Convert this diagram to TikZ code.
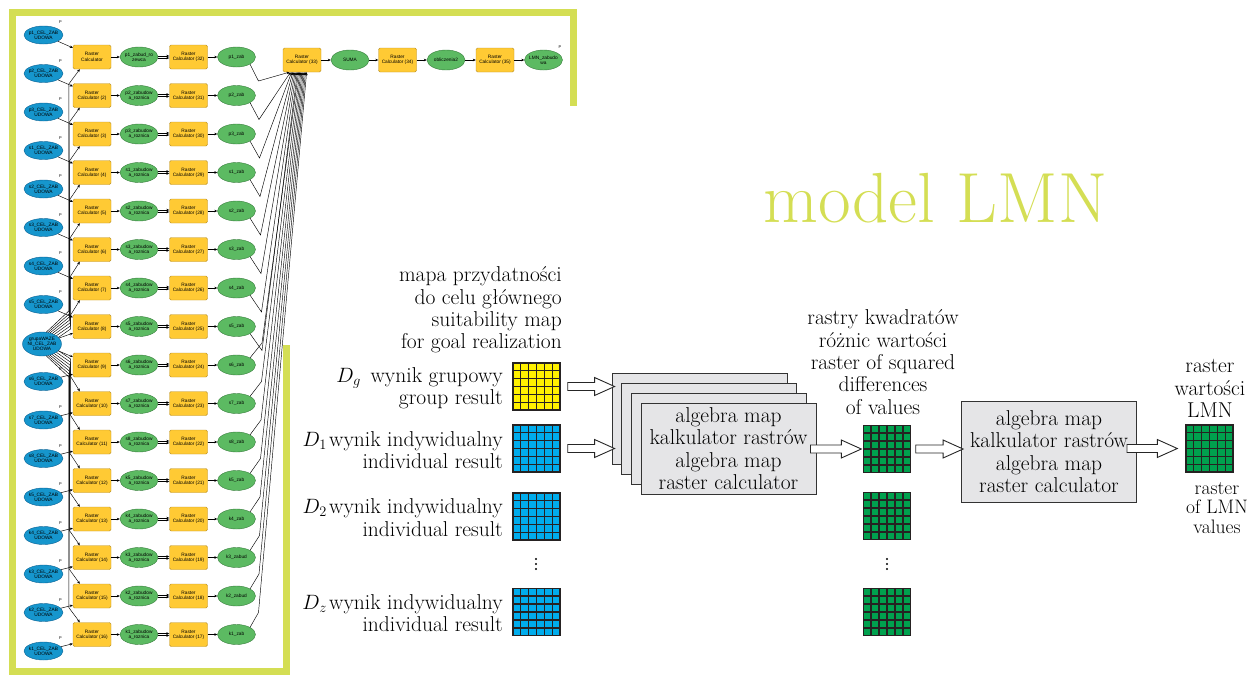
\documentclass[tikz,border=0pt]{standalone}
\usepackage{fontspec}
\newfontfamily\arcfont{Liberation Sans}
\usetikzlibrary{arrows.meta,calc,shapes.geometric}

\definecolor{lime}{RGB}{212,222,84}
\definecolor{inblue}{RGB}{22,150,205}
\definecolor{inblueline}{RGB}{12,98,148}
\definecolor{calcyel}{RGB}{255,202,52}
\definecolor{calcyelline}{RGB}{185,145,40}
\definecolor{dergreen}{RGB}{92,186,98}
\definecolor{dergreenline}{RGB}{55,125,60}
\definecolor{cellyellow}{RGB}{255,241,0}
\definecolor{cellblue}{RGB}{0,172,236}
\definecolor{cellgreen}{RGB}{0,161,78}
\definecolor{celledge}{RGB}{38,34,34}
\definecolor{boxgray}{RGB}{229,229,231}

\tikzset{
  tiny/.style={font=\arcfont\fontsize{4.8}{5.3}\selectfont, align=center, text=black},
  inp/.style={tiny, ellipse, draw=inblueline, fill=inblue, line width=0.4pt,
    minimum width=39pt, minimum height=18pt, inner sep=-2.5pt},
  calc/.style={tiny, rectangle, rounded corners=1.5pt, draw=calcyelline, fill=calcyel,
    line width=0.4pt, minimum width=38pt, minimum height=24pt, inner sep=0pt},
  der/.style={tiny, ellipse, draw=dergreenline, fill=dergreen, line width=0.4pt,
    minimum width=38pt, minimum height=20pt, inner sep=-2.5pt},
  pmark/.style={font=\arcfont\fontsize{4}{4}\selectfont, inner sep=0pt},
  link/.style={draw=black, line width=0.45pt, -{Stealth[length=3pt,width=2.6pt]}},
  frame/.style={draw=lime, line width=7pt},
  lbl/.style={font=\fontsize{21.5}{22.3}\selectfont, inner sep=0pt},
  raster/.style={draw=celledge, line width=1.4pt, minimum size=47pt, inner sep=0pt},
  gridln/.style={draw=celledge, line width=1.4pt},
  opbox/.style={lbl, draw=black!80, fill=boxgray, line width=0.9pt, align=center,
    minimum width=175pt, minimum height=91pt},
  hollow/.style={draw=black!85, fill=white, line width=0.9pt, line join=miter,
    to path={let \p1=(\tikztostart), \p2=(\tikztotarget) in
      (\x1,\y1+4pt) -- (\x2-20pt,\y1+4pt) -- (\x2-20pt,\y1+9pt) -- (\x2,\y1)
      -- (\x2-20pt,\y1-9pt) -- (\x2-20pt,\y1-4pt) -- (\x1,\y1-4pt) -- cycle}}
}

% 6x6 cells inside a raster node
\newcommand{\rastercells}[1]{%
  \foreach \t in {1,...,5}{
    \draw[gridln] ($(#1.north west)!\t/6!(#1.north east)$) -- ($(#1.south west)!\t/6!(#1.south east)$);
    \draw[gridln] ($(#1.north west)!\t/6!(#1.south west)$) -- ($(#1.north east)!\t/6!(#1.south east)$);
  }}

\begin{document}
\begin{tikzpicture}[x=1pt,y=-1pt]
\useasboundingbox (0,0) rectangle (1258,675);

% model builder frame
\draw[frame] (286,345) -- (286,671) -- (12,671) -- (12,12) -- (573,12) -- (573,106);

% group input
\node[inp, minimum height=24pt] (grupa) at (42,344) {grupaWAZE\\NI\_CEL\_ZAB\\UDOWA};

% one row per individual input
\foreach \nm/\zs [count=\i] in {p1/zab,p2/zab,p3/zab,s1/zab,s2/zab,s3/zab,s4/zab,s5/zab,
    s6/zab,s7/zab,s8/zab,k5/zab,k4/zab,k3/zabud,k2/zabud,k1/zab}{
  \pgfmathsetmacro\yb{57+38.5*(\i-1)}
  \pgfmathsetmacro\yi{\i>8 ? \yb+16.5 : \yb-22}
  \pgfmathtruncatemacro\nb{33-\i}
  \node[inp] (in\i) at (43.5,\yi) {\nm\_CEL\_ZAB\\UDOWA};
  \node[pmark] at ([shift={(3pt,6pt)}]in\i.north east) {P};
  \node[calc] (ca\i) at (92,\yb) {Raster\\Calculator\ifnum\i>1\ (\i)\fi};
  \node[der] (mi\i) at (139,\yb) {\ifnum\i=1 p1\_zabud\_ro\\zewca\else\nm\_zabudow\\a\_roznica\fi};
  \node[calc] (cb\i) at (188.5,\yb) {Raster\\Calculator (\nb)};
  \node[der] (ou\i) at (236.5,\yb) {\nm\_\zs};
  \draw[link] (ca\i) -- (mi\i);
  \draw[link] ([yshift=1pt]mi\i.east) -- ([yshift=1pt]cb\i.west);
  \draw[link] ([yshift=-1pt]mi\i.east) -- ([yshift=-1pt]cb\i.west);
  \draw[link] (cb\i) -- (ou\i);
  \ifnum\i>8
    \draw[link] (in\i) -- ([yshift=3pt]ca\i.south west);
  \else
    \draw[link] (in\i) -- ([yshift=-3pt]ca\i.north west);
  \fi
}

% group input feeds every first calculator, fanning out to a common bus
\foreach \i in {1,...,16}{
  \pgfmathsetmacro\yb{57+38.5*(\i-1)}
  \ifnum\i<8
    \pgfmathtruncatemacro\ang{70-8*(\i-1)}
    \pgfmathsetmacro\xb{68.5+0.3*\i}
    \pgfmathsetmacro\yf{311+3*(\i-1)}
    \draw[link] (grupa.\ang) -- (\xb,\yf) -- (\xb,\yb+27) -- ([xshift=7pt]ca\i.south west);
  \else\ifnum\i>9
    \pgfmathtruncatemacro\ang{290+8*(16-\i)}
    \pgfmathsetmacro\xb{68.5+0.3*(17-\i)}
    \pgfmathsetmacro\yf{377-3*(16-\i)}
    \draw[link] (grupa.\ang) -- (\xb,\yf) -- (\xb,\yb-27) -- ([xshift=7pt]ca\i.north west);
  \else
    \draw[link] (grupa) -- (ca\i);
  \fi\fi
}

% summing branch
\node[calc] (c33) at (302,60) {Raster\\Calculator (33)};
\node[der] (suma) at (350,60) {SUMA};
\node[calc] (c34) at (397.5,60) {Raster\\Calculator (34)};
\node[der] (obl) at (446,60) {obliczenia2};
\node[calc] (c35) at (495,60) {Raster\\Calculator (35)};
\node[der] (lmnz) at (543.5,60) {LMN\_zabudo\\wa};
\node[pmark] at ([shift={(3pt,6pt)}]lmnz.north east) {P};
\draw[link] (c33) -- (suma);
\draw[link] (suma) -- (c34);
\draw[link] (c34) -- (obl);
\draw[link] (obl) -- (c35);
\draw[link] (c35) -- (lmnz);

\foreach \i in {1,...,16}{
  \pgfmathsetmacro\yb{57+38.5*(\i-1)}
  \pgfmathsetmacro\tpos{0.14+0.03*\i}
  \ifnum\i<9
    \pgfmathsetmacro\xb{258+0.5*\i}
    \draw[link] (ou\i.south east) -- (\xb,\yb+24) -- ($(c33.south west)!\tpos!(c33.south east)$);
  \else
    \pgfmathsetmacro\xb{258+0.5*(17-\i)}
    \draw[link] (ou\i.north east) -- (\xb,\yb-22) -- ($(c33.south west)!\tpos!(c33.south east)$);
  \fi
}

% title
\node[font=\fontsize{71}{75}\selectfont, text=lime, anchor=base west, inner sep=0pt] (title) at (763,222) {model LMN};

% input rasters
\node[lbl, align=right, anchor=east] (suit) at (562,310) {mapa przydatności\\do celu głównego\\suitability map\\for goal realization};
\node[raster, fill=cellyellow] (dg) at (536.5,386.5) {};
\node[raster, fill=cellblue] (d1) at (536.5,448.5) {};
\node[raster, fill=cellblue] (d2) at (536.5,516.5) {};
\node[raster, fill=cellblue] (dz) at (536.5,612) {};
\node[lbl, align=right, anchor=east] (dgtxt) at (503,388.5) {$D_g$\hspace{.45em}wynik grupowy\\group result};
\node[lbl, align=right, anchor=east] (d1txt) at (503,450) {$D_1$\hspace{.1em}wynik indywidualny\\individual result};
\node[lbl, align=right, anchor=east] (d2txt) at (503,517.5) {$D_2$\hspace{.1em}wynik indywidualny\\individual result};
\node[lbl, align=right, anchor=east] (dztxt) at (503,613) {$D_z$\hspace{.1em}wynik indywidualny\\individual result};

% squared differences
\node[lbl, align=center] (sqhead) at (883,362) {rastry kwadratów\\różnic wartości\\raster of squared\\differences\\of values};
\node[raster, fill=cellgreen] (sq1) at (887,449) {};
\node[raster, fill=cellgreen] (sq2) at (887,516) {};
\node[raster, fill=cellgreen] (sq3) at (887,612) {};

% result
\node[lbl, align=center] (lmnhead) at (1210,388.5) {raster\\wartości\\LMN};
\node[raster, fill=cellgreen] (lmn) at (1209.5,448.5) {};
\node[lbl, align=center, font=\fontsize{19.5}{19.2}\selectfont] (lmnfoot) at (1217,508) {raster\\of LMN\\values};

\foreach \r in {dg,d1,d2,dz,sq1,sq2,sq3,lmn}{\rastercells{\r}}

\foreach \x in {536,887}
  \foreach \k in {0,1,2}
    \fill (\x,559+5*\k) circle (1.1pt);

% map algebra steps
\foreach \k in {0,1,2}
  \node[opbox] (stk\k) at (699.5+9.7*\k,419+9.8*\k) {};
\node[opbox] (alg) at (728.5,448.5) {algebra map\\kalkulator rastrów\\algebra map\\raster calculator};
\node[opbox, minimum height=101pt] (lmnalg) at (1049,451.5) {algebra map\\kalkulator rastrów\\algebra map\\raster calculator};

\draw[hollow] ([xshift=7pt]dg.east) to ($(stk0.west |- dg.east)+(3pt,0)$);
\draw[hollow] ([xshift=7pt]d1.east) to ($(stk0.west |- d1.east)+(3pt,0)$);
\draw[hollow] ($(alg.east |- sq1.west)+(-6pt,0)$) to ([xshift=-1.5pt]sq1.west);
\draw[hollow] ([xshift=4.5pt]sq1.east) to ($(lmnalg.west |- sq1.east)+(2pt,0)$);
\draw[hollow] ($(lmnalg.east |- lmn.west)+(-10pt,0)$) to ([xshift=-8pt]lmn.west);
\end{tikzpicture}
\end{document}
